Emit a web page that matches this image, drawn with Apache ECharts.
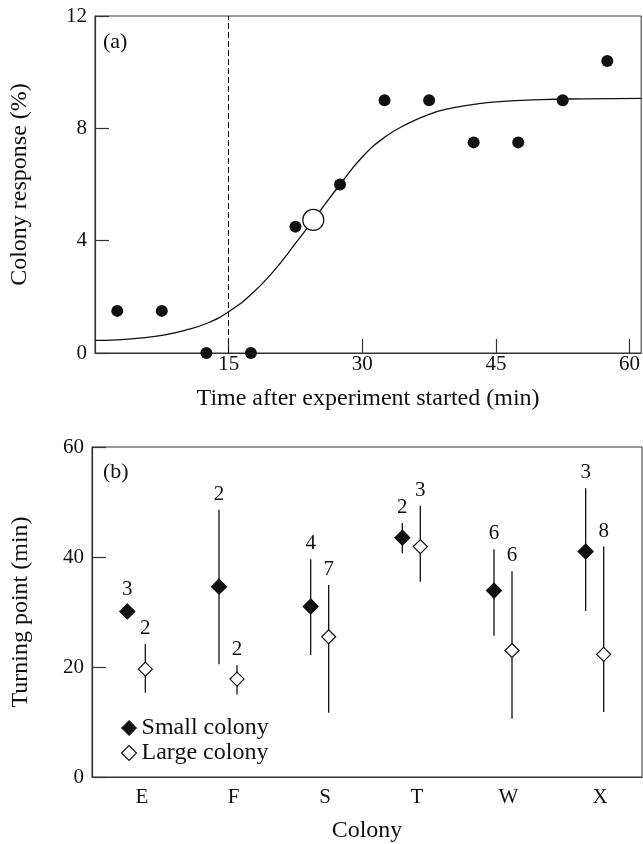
<!DOCTYPE html>
<html><head><meta charset="utf-8">
<script src="https://cdn.jsdelivr.net/npm/echarts@6/dist/echarts.min.js"></script>
<style>html,body{margin:0;padding:0;background:#fff}#c{width:643px;height:844px}</style>
</head><body><div id="c"></div>
<script>
// ---------- Panel (a) data ----------
const timePts     = [2.5, 7.5, 12.5, 17.5, 22.5, 27.5, 32.5, 37.5, 42.5, 47.5, 52.5, 57.5];
const responsePts = [1.5, 1.5, 0,    0,    4.5,  6.0,  9.0,  9.0,  7.5,  7.5,  9.0,  10.4];
const turningTime = [24.5];
const turningResp = [4.74];
const curveT = [0, 2.5, 5, 7.5, 10, 12.5, 15, 17.5, 20, 22.5, 24.5, 27.5, 30, 32.5, 35, 37.5, 40, 42.5, 45, 50, 55, 61.3];
const curveY = [0.45, 0.47, 0.53, 0.63, 0.8, 1.05, 1.47, 2.08, 2.9, 3.9, 4.74, 6.0, 6.98, 7.68, 8.15, 8.5, 8.72, 8.85, 8.94, 9.02, 9.05, 9.07];
const thresholdTime = 15;
const xTicksA = [15, 30, 45, 60];
const yTicksA = [0, 4, 8, 12];

// ---------- Panel (b) data ----------
const colonies  = ['E', 'F', 'S', 'T', 'W', 'X'];
const smallMean = [30.1, 34.6, 31.0, 43.5, 33.9, 41.0];
const smallLow  = [null, 20.5, 22.2, 40.7, 25.7, 30.2];
const smallHigh = [null, 48.6, 39.6, 46.2, 41.4, 52.5];
const smallN    = [3, 2, 4, 2, 6, 3];
const largeMean = [19.6, 17.8, 25.5, 41.9, 23.0, 22.3];
const largeLow  = [15.3, 15.0, 11.7, 35.5, 10.6, 11.8];
const largeHigh = [24.2, 20.3, 34.9, 49.3, 37.4, 41.9];
const largeN    = [2, 2, 7, 3, 6, 8];
const yTicksB = [0, 20, 40, 60];

const FONT = '"Liberation Serif", "Times New Roman", serif';
const INK = '#111';
const AX = '#333';

const chart = echarts.init(document.getElementById('c'), null, {renderer: 'canvas'});

function group(name, mean, low, high, nArr, dx, filled) {
  return {
    type: 'custom', name: name, xAxisIndex: 1, yAxisIndex: 1, clip: false, z: 5,
    itemStyle: {color: filled ? INK : '#fff', borderColor: INK},
    data: colonies.map((c, i) => [i, mean[i]]),
    encode: {x: 0, y: 1},
    renderItem: function (params, api) {
      const i = params.dataIndex;
      const p = api.coord([i, mean[i]]);
      const x = p[0] + dx, y = p[1];
      const r = filled ? 7.5 : 7;
      const ch = [];
      let labelY = y - r - 14;
      if (low[i] != null && high[i] != null) {
        const pl = api.coord([i, low[i]]), ph = api.coord([i, high[i]]);
        ch.push({type: 'line', shape: {x1: x, y1: ph[1], x2: x, y2: pl[1]},
                 style: {stroke: INK, lineWidth: 1.3}});
        labelY = ph[1] - 15.5;
      }
      ch.push({type: 'polygon', shape: {points: [[x, y - r], [x + r, y], [x, y + r], [x - r, y]]},
               style: {fill: filled ? INK : '#fff', stroke: INK, lineWidth: 1.2}});
      ch.push({type: 'text', style: {text: String(nArr[i]), x: x, y: labelY, align: 'center',
               verticalAlign: 'middle', fontSize: 21, fontFamily: FONT, fill: INK}});
      return {type: 'group', children: ch};
    }
  };
}

const option = {
  backgroundColor: '#fff',
  animation: false,
  textStyle: {fontFamily: FONT, color: INK},
  grid: [
    {left: 92, top: 16, width: 550, height: 337, show: true, borderColor: AX, borderWidth: 1, containLabel: false},
    {left: 92, top: 447, width: 550, height: 336, show: true, borderColor: AX, borderWidth: 1, containLabel: false}
  ],
  xAxis: [
    {type: 'value', gridIndex: 0, min: 0, max: 61.3, interval: 15,
     name: 'Time after experiment started (min)', nameLocation: 'middle', nameGap: 34,
     nameTextStyle: {fontSize: 24, fontFamily: FONT, color: INK},
     axisLine: {lineStyle: {color: AX, width: 1.2}},
     axisTick: {inside: true, length: 14, lineStyle: {color: AX, width: 1.2}, customValues: xTicksA},
     axisLabel: {fontSize: 21, fontFamily: FONT, color: INK, margin: 1, customValues: xTicksA},
     splitLine: {show: false}},
    {type: 'category', gridIndex: 1, data: colonies, boundaryGap: true,
     name: 'Colony', nameLocation: 'middle', nameGap: 42,
     nameTextStyle: {fontSize: 24, fontFamily: FONT, color: INK},
     axisLine: {lineStyle: {color: AX, width: 1.2}},
     axisTick: {inside: true, length: 15, interval: 0, alignWithLabel: false, lineStyle: {color: AX, width: 1.2}},
     axisLabel: {fontSize: 21, fontFamily: FONT, color: INK, margin: 10, interval: 0, padding: [0, 0, 0, 8]},
     splitLine: {show: false}}
  ],
  yAxis: [
    {type: 'value', gridIndex: 0, min: 0, max: 12, interval: 4,
     name: 'Colony response (%)', nameLocation: 'middle', nameGap: 63,
     nameTextStyle: {fontSize: 24, fontFamily: FONT, color: INK},
     axisLine: {show: true, lineStyle: {color: AX, width: 1.2}},
     axisTick: {show: true, inside: true, length: 14, lineStyle: {color: AX, width: 1.2}, customValues: yTicksA},
     axisLabel: {fontSize: 21, fontFamily: FONT, color: INK, margin: 8, customValues: yTicksA},
     splitLine: {show: false}},
    {type: 'value', gridIndex: 1, min: 0, max: 60, interval: 20,
     name: 'Turning point (min)', nameLocation: 'middle', nameGap: 59,
     nameTextStyle: {fontSize: 24, fontFamily: FONT, color: INK},
     axisLine: {show: true, lineStyle: {color: AX, width: 1.2}},
     axisTick: {show: true, inside: true, length: 14, lineStyle: {color: AX, width: 1.2}, customValues: yTicksB},
     axisLabel: {fontSize: 21, fontFamily: FONT, color: INK, margin: 8, customValues: yTicksB},
     splitLine: {show: false}}
  ],
  legend: {
    orient: 'vertical', left: 121, top: 716, padding: 0, itemWidth: 15, itemHeight: 15, itemGap: 1,
    textStyle: {fontSize: 24, fontFamily: FONT, color: INK, lineHeight: 24},
    data: [
      {name: 'Small colony', icon: 'diamond', itemStyle: {color: INK, borderColor: INK, borderWidth: 1, opacity: 1}},
      {name: 'Large colony', icon: 'diamond', itemStyle: {color: '#fff', borderColor: INK, borderWidth: 1.1, opacity: 1}}
    ]
  },
  graphic: [
    {type: 'text', left: 103, top: 31, style: {text: '(a)', fontSize: 22, fontFamily: FONT, fill: INK}},
    {type: 'text', left: 103, top: 461, style: {text: '(b)', fontSize: 22, fontFamily: FONT, fill: INK}}
  ],
  series: [
    {type: 'line', name: 'fit', xAxisIndex: 0, yAxisIndex: 0, smooth: true, showSymbol: false, symbol: 'none',
     data: curveT.map((t, i) => [t, curveY[i]]),
     lineStyle: {color: INK, width: 1.3}, z: 2, silent: true,
     markLine: {silent: true, symbol: 'none', label: {show: false},
                lineStyle: {color: INK, width: 1, type: [6, 3]},
                data: [{xAxis: thresholdTime}]}},
    {type: 'scatter', name: 'turning', xAxisIndex: 0, yAxisIndex: 0, symbol: 'circle', symbolSize: 21, clip: false,
     itemStyle: {color: '#fff', borderColor: INK, borderWidth: 1.2, opacity: 1}, z: 3,
     data: turningTime.map((t, i) => [t, turningResp[i]])},
    {type: 'scatter', name: 'obs', xAxisIndex: 0, yAxisIndex: 0, symbol: 'circle', symbolSize: 12, clip: false,
     itemStyle: {color: INK, opacity: 1}, z: 4,
     data: timePts.map((t, i) => [t, responsePts[i]])},
    group('Small colony', smallMean, smallLow, smallHigh, smallN, -10.5, true),
    group('Large colony', largeMean, largeLow, largeHigh, largeN, 7.5, false)
  ]
};
chart.setOption(option);
</script>
</body></html>
